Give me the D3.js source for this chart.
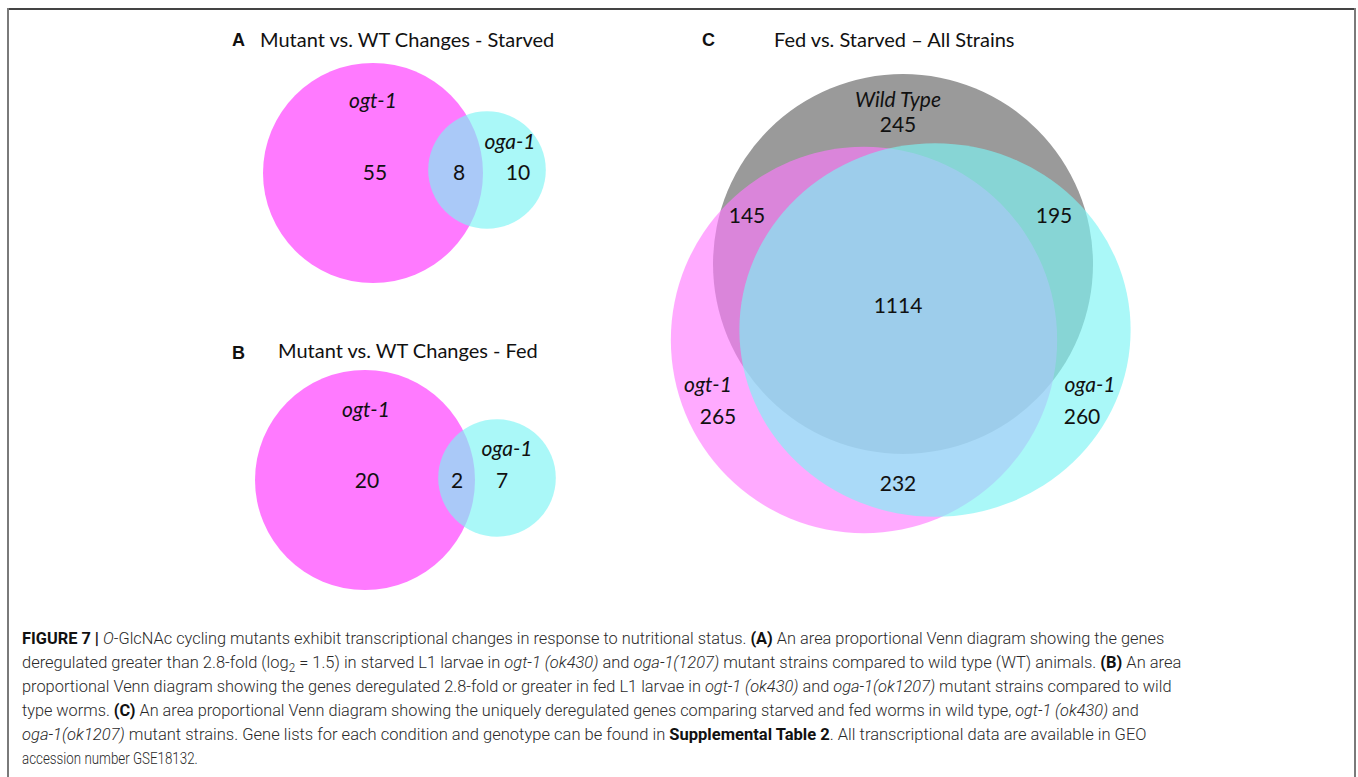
<!DOCTYPE html>
<html>
<head>
<meta charset="utf-8">
<script src="https://cdn.jsdelivr.net/npm/d3@7"></script>
<style>
  html,body{margin:0;padding:0;background:#fff;}
  svg{display:block;}
  .ttl{font-family:Lato,"Open Sans",sans-serif;font-size:20px;fill:#111;}
  .tag{font-family:"Liberation Sans",Arial,sans-serif;font-weight:bold;font-size:18px;fill:#111;}
  .lbl{font-family:Lato,"Open Sans",sans-serif;font-size:21px;fill:#111;text-anchor:middle;}
  .lbl.it{font-style:italic;}
  .cap{font-family:Roboto,"Liberation Sans",sans-serif;font-size:17px;fill:#2a2a2a;font-weight:300;}
</style>
</head>
<body>
<div id="chart"></div>
<script>
/* ---- data ---- */
// panel A: starved, mutant vs WT
var setsA = ["ogt-1", "oga-1"];
var countsA = [55, 8, 10];            // ogt-1 only, both, oga-1 only
// panel B: fed, mutant vs WT
var setsB = ["ogt-1", "oga-1"];
var countsB = [20, 2, 7];
// panel C: fed vs starved, three strains
var setsC = ["Wild Type", "ogt-1", "oga-1"];
var regionsC = ["WT", "WT+ogt", "WT+oga", "all", "ogt", "oga", "ogt+oga"];
var countsC = [245, 145, 195, 1114, 265, 260, 232];

var titles = ["Mutant vs. WT Changes - Starved", "Mutant vs. WT Changes - Fed", "Fed vs. Starved \u2013 All Strains"];
var tags = ["A", "B", "C"];

var captionLines = [
  [["b","FIGURE 7 | "],["i","O"],["","-GlcNAc cycling mutants exhibit transcriptional changes in response to nutritional status. "],["b","(A)"],[""," An area proportional Venn diagram showing the genes"]],
  [["","deregulated greater than 2.8-fold (log"],["sub","2"],[""," =  1.5) in starved L1 larvae in "],["i","ogt-1 (ok430)"],[""," and "],["i","oga-1(1207)"],[""," mutant strains compared to wild type (WT) animals. "],["b","(B)"],[""," An area"]],
  [["","proportional Venn diagram showing the genes deregulated 2.8-fold or greater in fed L1 larvae in "],["i","ogt-1 (ok430)"],[""," and "],["i","oga-1(ok1207)"],[""," mutant strains compared to wild"]],
  [["","type worms. "],["b","(C)"],[""," An area proportional Venn diagram showing the uniquely deregulated genes comparing starved and fed worms in wild type, "],["i","ogt-1 (ok430)"],[""," and"]],
  [["i","oga-1(ok1207)"],[""," mutant strains. Gene lists for each condition and genotype can be found in "],["b","Supplemental Table 2"],["",". All transcriptional data are available in GEO"]],
  [["","accession number GSE18132."]]
];
var captionWidths = [1143, 1160, 1150, 1118, 1125, 176];

/* ---- page ---- */
var W = 1358, H = 777;
var svg = d3.select("#chart").append("svg").attr("width", W).attr("height", H);

// frame
svg.append("line").attr("x1",8).attr("y1",9).attr("x2",1355).attr("y2",9).attr("stroke","#444").attr("stroke-width",2);
svg.append("line").attr("x1",8).attr("y1",8).attr("x2",8).attr("y2",H).attr("stroke","#7a7a7a").attr("stroke-width",2);
svg.append("line").attr("x1",1355).attr("y1",8).attr("x2",1355).attr("y2",H).attr("stroke","#7a7a7a").attr("stroke-width",2);

var col = {ogt:"rgb(255,122,255)", oga:"rgb(125,245,245)", wt:"#9a9a9a"};

/* two-set panels: radius from set total through a sqrt scale (same scale for A and B, as in the figure) */
var totA = [countsA[0]+countsA[1], countsA[1]+countsA[2]];
var rA = d3.scaleSqrt().domain([0, totA[0]]).range([0, 110]);

function twoSet(g, sets, counts, cx, cy, rad, lay){
  g.append("circle").attr("cx",cx[0]).attr("cy",cy[0]).attr("r",rad[0]).attr("fill",col.ogt);
  g.append("circle").attr("cx",cx[1]).attr("cy",cy[1]).attr("r",rad[1]).attr("fill",col.oga).attr("fill-opacity",0.65);
  g.selectAll("text.set").data(sets).enter().append("text").attr("class","lbl it set")
    .attr("x",function(d,i){return lay.setX[i];}).attr("y",function(d,i){return lay.setY[i];}).text(function(d){return d;});
  g.selectAll("text.num").data(counts).enter().append("text").attr("class","lbl num")
    .attr("x",function(d,i){return lay.numX[i];}).attr("y",lay.numY).text(function(d){return d;});
}

var gA = svg.append("g");
gA.append("text").attr("class","tag").attr("x",232).attr("y",46).text(tags[0]);
gA.append("text").attr("class","ttl").attr("x",260).attr("y",47).text(titles[0]);
twoSet(gA, setsA, countsA, [373,487], [173,170], [rA(totA[0]), rA(totA[1])],
  {setX:[373,510], setY:[108,149], numX:[375,459,518], numY:180});

var gB = svg.append("g");
gB.append("text").attr("class","tag").attr("x",232).attr("y",359).text(tags[1]);
gB.append("text").attr("class","ttl").attr("x",278).attr("y",358).text(titles[1]);
twoSet(gB, setsB, countsB, [365,497], [480,478], [rA(totA[0]), rA(totA[1])],
  {setX:[366,507], setY:[417,456], numX:[367,457,502], numY:488});

/* three-set panel */
var totC = [
  countsC[0]+countsC[1]+countsC[2]+countsC[3],
  countsC[1]+countsC[3]+countsC[4]+countsC[6],
  countsC[2]+countsC[3]+countsC[5]+countsC[6]
];
var rC = d3.scaleSqrt().domain([0, totC[0]]).range([0, 190]);
var gC = svg.append("g");
gC.append("text").attr("class","tag").attr("x",702).attr("y",46).text(tags[2]);
gC.append("text").attr("class","ttl").attr("x",774).attr("y",47).text(titles[2]);
// the oga-1 shape is drawn slightly flattened in the source figure
var circC = [
  {cx:903, cy:264, fill:col.wt,  op:1,    flat:1},
  {cx:864, cy:340, fill:col.ogt, op:0.64, flat:1},
  {cx:935, cy:330, fill:col.oga, op:0.65, flat:0.955}
];
gC.selectAll("ellipse").data(circC).enter().append("ellipse")
  .attr("cx",function(d){return d.cx;}).attr("cy",function(d){return d.cy;})
  .attr("rx",function(d,i){return rC(totC[i]);})
  .attr("ry",function(d,i){return rC(totC[i])*d.flat;})
  .attr("fill",function(d){return d.fill;}).attr("fill-opacity",function(d){return d.op;});
var setPosC = [[898,107],[708,392],[1090,392]];
gC.selectAll("text.set").data(setsC).enter().append("text").attr("class","lbl it set")
  .attr("x",function(d,i){return setPosC[i][0];}).attr("y",function(d,i){return setPosC[i][1];}).text(function(d){return d;});
var numPosC = {"WT":[898,132],"WT+ogt":[747,223],"WT+oga":[1054,223],"all":[898,313],"ogt":[718,424],"oga":[1082,424],"ogt+oga":[898,491]};
gC.selectAll("text.num").data(countsC).enter().append("text").attr("class","lbl num")
  .attr("x",function(d,i){return numPosC[regionsC[i]][0];}).attr("y",function(d,i){return numPosC[regionsC[i]][1];})
  .text(function(d){return d;});

/* caption: set each line in Roboto, then squeeze it horizontally to the condensed width of the original */
var cap = svg.append("g");
captionLines.forEach(function(line, li){
  var t = cap.append("text").attr("class","cap").attr("x",0).attr("y",0);
  line.forEach(function(seg, si){
    var s = t.append("tspan").text(seg[1]);
    if(seg[0]==="b") s.attr("font-weight","bold").attr("fill","#111");
    if(seg[0]==="i") s.attr("font-style","italic");
    if(seg[0]==="sub") s.attr("font-size","12px").attr("dy",4);
    if(si>0 && line[si-1][0]==="sub") s.attr("dy",-4);   // back to the baseline
  });
  var natural = t.node().getComputedTextLength();
  t.attr("transform","translate(22,"+(644+li*24)+") scale("+(captionWidths[li]/natural)+",1)");
});
</script>
</body>
</html>
